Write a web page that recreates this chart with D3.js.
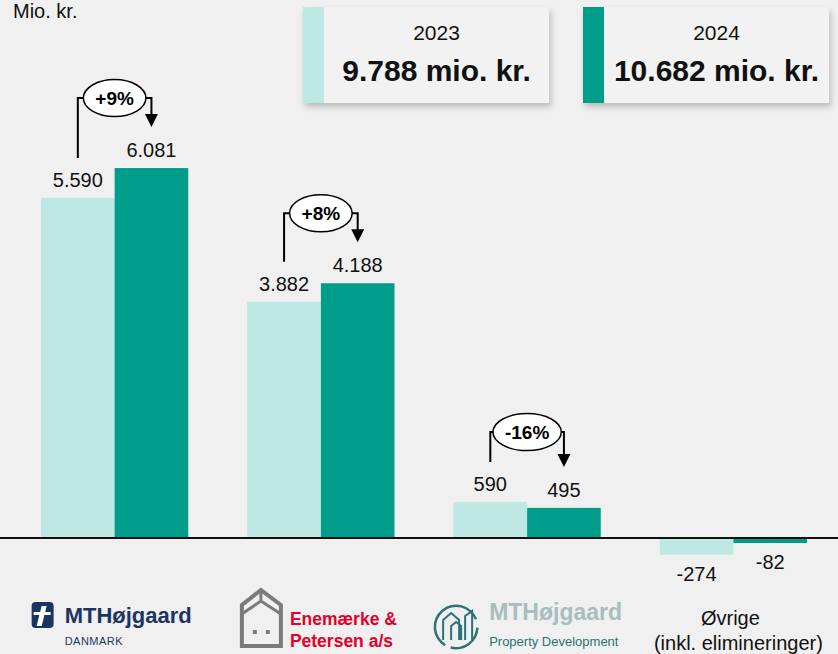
<!DOCTYPE html>
<html>
<head>
<meta charset="utf-8">
<script src="https://cdn.jsdelivr.net/npm/d3@7"></script>
<style>
  body { margin: 0; background: #f0f0f0; }
  svg { display: block; font-family: "Liberation Sans", Arial, sans-serif; }
</style>
</head>
<body>
<svg width="838" height="654"></svg>
<script>
// data
var categories = ["MTHøjgaard Danmark", "Enemærke & Petersen", "MTHøjgaard Property Development", "Øvrige"];
var years = ["2023", "2024"];
var values2023 = [5590, 3882, 590, -274];
var values2024 = [6081, 4188, 495, -82];
var changes = ["+9%", "+8%", "-16%", null];
var totals = ["9.788 mio. kr.", "10.682 mio. kr."];
var unitLabel = "Mio. kr.";

var colors = { "2023": "#bee8e3", "2024": "#009e8a" };

var svg = d3.select("svg");
var width = +svg.attr("width");
var height = +svg.attr("height");
var baseY = 538;

svg.append("rect").attr("width", width).attr("height", height).attr("fill", "#f0f0f0");

var defs = svg.append("defs");
var f = defs.append("filter").attr("id", "shadow").attr("x", "-10%").attr("y", "-10%").attr("width", "130%").attr("height", "140%");
f.append("feDropShadow").attr("dx", 2).attr("dy", 4).attr("stdDeviation", 3).attr("flood-color", "#000").attr("flood-opacity", 0.22);

var x = d3.scaleBand().domain(categories).range([11.5, 836.5]).paddingInner(0.286).paddingOuter(0.143);
var xs = d3.scaleBand().domain(years).range([0, x.bandwidth()]);
var y = d3.scaleLinear().domain([0, 6000]).range([baseY, 173]);

var loc = d3.formatLocale({ decimal: ",", thousands: ".", grouping: [3], currency: ["", " kr."], minus: "-" });
var fmt = loc.format(",d");

var rows = categories.map(function (c, i) {
    return { cat: c, vals: [{ year: "2023", v: values2023[i] }, { year: "2024", v: values2024[i] }], change: changes[i] };
});

// unit
svg.append("text").attr("x", 13).attr("y", 18).attr("font-size", 20).attr("fill", "#111").text(unitLabel);

// legend boxes
var legendX = [303, 583];
years.forEach(function (yr, i) {
    var g = svg.append("g").attr("transform", "translate(" + legendX[i] + ",7)");
    g.append("rect").attr("width", 246).attr("height", 96).attr("fill", "#f2f2f2").attr("filter", "url(#shadow)");
    g.append("rect").attr("width", 21).attr("height", 96).attr("fill", colors[yr]);
    var cx = 21 + (246 - 21) / 2;
    g.append("text").attr("x", cx).attr("y", 33).attr("text-anchor", "middle").attr("font-size", 21).attr("fill", "#111").text(yr);
    g.append("text").attr("x", cx).attr("y", 74).attr("text-anchor", "middle").attr("font-size", 30).attr("font-weight", "bold").attr("fill", "#111").text(totals[i]);
});

// bars
var groups = svg.selectAll(".grp").data(rows).enter().append("g")
    .attr("class", "grp")
    .attr("transform", function (d) { return "translate(" + x(d.cat) + ",0)"; });

groups.selectAll("rect").data(function (d) { return d.vals; }).enter().append("rect")
    .attr("x", function (d) { return xs(d.year); })
    .attr("y", function (d) { return Math.min(y(d.v), y(0)); })
    .attr("width", xs.bandwidth())
    .attr("height", function (d) { return Math.abs(y(d.v) - y(0)); })
    .attr("fill", function (d) { return colors[d.year]; });

groups.selectAll(".val").data(function (d) { return d.vals; }).enter().append("text")
    .attr("class", "val")
    .attr("x", function (d) { return xs(d.year) + xs.bandwidth() / 2; })
    .attr("y", function (d) { return d.v >= 0 ? y(d.v) - 11 : y(d.v) + 26; })
    .attr("text-anchor", "middle")
    .attr("font-size", 20)
    .attr("fill", "#111")
    .text(function (d) { return fmt(d.v); });

// baseline
svg.append("line").attr("x1", 0).attr("x2", width).attr("y1", y(0)).attr("y2", y(0))
    .attr("stroke", "#111").attr("stroke-width", 2);

// change annotations
groups.filter(function (d) { return d.change; }).each(function (d) {
    var g = d3.select(this);
    var xl = xs("2023") + xs.bandwidth() / 2;
    var xr = xs("2024") + xs.bandwidth() / 2;
    var yl = y(d.vals[0].v), yr = y(d.vals[1].v);
    var by = Math.min(yl, yr) - 70;
    var tip = yr - 41;
    g.append("path")
        .attr("d", "M" + xl + "," + (yl - 40) + "V" + by + "H" + xr + "V" + (tip - 12))
        .attr("fill", "none").attr("stroke", "#000").attr("stroke-width", 2);
    g.append("path")
        .attr("d", "M" + (xr - 6.5) + "," + (tip - 13) + "L" + (xr + 6.5) + "," + (tip - 13) + "L" + xr + "," + tip + "Z")
        .attr("fill", "#000");
    var cx = x.bandwidth() / 2;
    var t = g.append("text").attr("x", cx).attr("y", by + 7).attr("text-anchor", "middle")
        .attr("font-size", 19).attr("font-weight", "bold").attr("fill", "#000").text(d.change);
    var w = t.node().getComputedTextLength();
    g.insert("ellipse", "text:last-child")
        .attr("cx", cx).attr("cy", by).attr("rx", w / 2 + 12).attr("ry", 18.5)
        .attr("fill", "#fff").attr("stroke", "#000").attr("stroke-width", 1.5);
    t.raise();
});

// category labels (logos)
var labelG = svg.selectAll(".cat").data(categories).enter().append("g")
    .attr("class", "cat")
    .attr("transform", function (d) { return "translate(" + (x(d) + x.bandwidth() / 2) + ",0)"; });

// MTHøjgaard Danmark
(function (g) {
    var navy = "#1b3562";
    g.append("rect").attr("x", -83).attr("y", 602).attr("width", 22).attr("height", 26).attr("rx", 4).attr("fill", navy);
    g.append("path").attr("d", "M-73,606 L-68,606 L-73,626 L-78,626 Z").attr("fill", "#fff");
    g.append("path").attr("d", "M-81,612 L-64,612 L-64,615 L-81,615 Z").attr("fill", "#fff");
    g.append("text").attr("x", -50).attr("y", 623).attr("font-size", 22).attr("font-weight", "bold").attr("fill", navy).text("MTHøjgaard");
    g.append("text").attr("x", -50).attr("y", 645).attr("font-size", 11).attr("letter-spacing", 0.5).attr("fill", navy).text("DANMARK");
})(d3.select(labelG.nodes()[0]));

// Enemærke & Petersen
(function (g) {
    var grey = "#7b7b7b", red = "#e4002b";
    g.append("path").attr("d", "M-79,646 V605 L-60,590 L-40,605 V646 Z").attr("fill", "none").attr("stroke", grey).attr("stroke-width", 4);
    g.append("path").attr("d", "M-79,614 L-60,601 L-40,614 M-60,590 V601").attr("fill", "none").attr("stroke", grey).attr("stroke-width", 3);
    g.append("rect").attr("x", -68).attr("y", 630).attr("width", 4).attr("height", 4).attr("fill", grey);
    g.append("rect").attr("x", -55).attr("y", 630).attr("width", 4).attr("height", 4).attr("fill", grey);
    g.append("text").attr("x", -31).attr("y", 625).attr("font-size", 17.5).attr("font-weight", "bold").attr("fill", red).text("Enemærke &");
    g.append("text").attr("x", -31).attr("y", 647).attr("font-size", 17.5).attr("font-weight", "bold").attr("fill", red).text("Petersen a/s");
})(d3.select(labelG.nodes()[1]));

// MTHøjgaard Property Development
(function (g) {
    var teal = "#2c7376", pale = "#a9bdbd";
    var arc = d3.arc().innerRadius(20).outerRadius(22.5);
    g.append("path").attr("transform", "translate(-71,627)").attr("d", arc({ startAngle: -2.6, endAngle: 1.2 })).attr("fill", teal);
    g.append("path").attr("transform", "translate(-71,627)").attr("d", arc({ startAngle: 1.6, endAngle: 3.4 })).attr("fill", teal);
    g.append("path").attr("d", "M-84,640 V620 L-76,613 L-68,620 V640 M-76,640 V626 L-71,622 L-66,626 V640 M-62,640 V616 L-55,611 L-55,640")
        .attr("fill", "none").attr("stroke", teal).attr("stroke-width", 2);
    g.append("text").attr("x", -38).attr("y", 620).attr("font-size", 23).attr("font-weight", "bold").attr("fill", pale).text("MTHøjgaard");
    g.append("text").attr("x", -38).attr("y", 646).attr("font-size", 13).attr("fill", teal).text("Property Development");
})(d3.select(labelG.nodes()[2]));

// Øvrige
(function (g) {
    g.append("text").attr("x", -3).attr("y", 625).attr("text-anchor", "middle").attr("font-size", 20).attr("fill", "#111").text("Øvrige");
    g.append("text").attr("x", 5).attr("y", 650).attr("text-anchor", "middle").attr("font-size", 20).attr("fill", "#111").text("(inkl. elimineringer)");
})(d3.select(labelG.nodes()[3]));
</script>
</body>
</html>
